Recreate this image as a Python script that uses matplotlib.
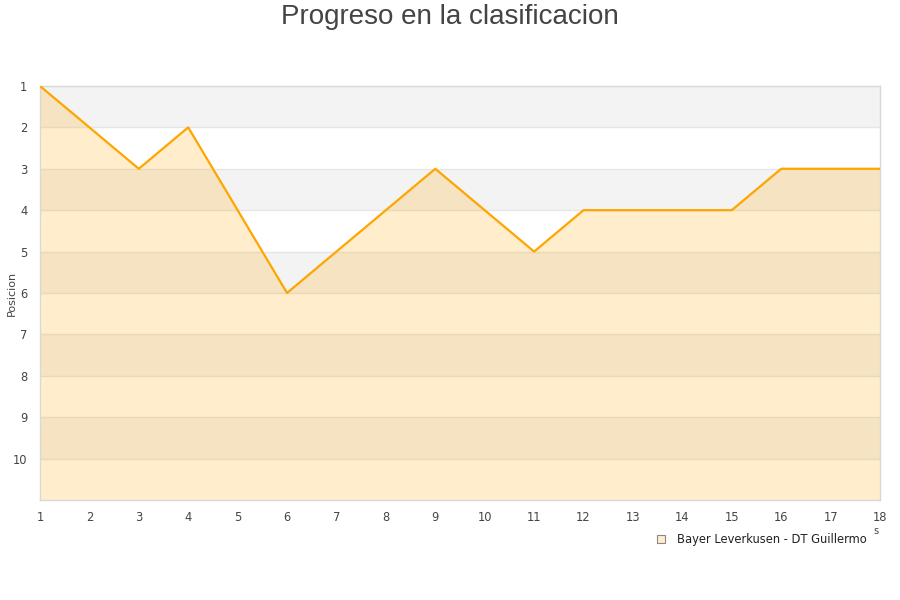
import matplotlib.pyplot as plt
import numpy as np
from matplotlib.lines import Line2D

# data
jornadas = list(range(1, 19))
posicion = [1, 2, 3, 2, 4, 6, 5, 4, 3, 4, 5, 4, 4, 4, 4, 3, 3, 3]
team = "Bayer Leverkusen - DT Guillermo"
y_ticks = list(range(1, 11))

ORANGE = "#ffa500"
GRID = "#e6e6e6"
TEXT = "#444444"

fig = plt.figure(figsize=(9, 6), dpi=100)
ax = fig.add_axes([0.0444, 0.1667, 0.9334, 0.69])

ax.set_xlim(1, 18)
ax.set_ylim(11, 1)

# alternating bands
for y0 in range(1, 11, 2):
    ax.axhspan(y0, y0 + 1, color="#f3f3f3", lw=0, zorder=0)
for y in range(2, 11):
    ax.axhline(y, color=GRID, lw=1, zorder=1)

ax.fill_between(jornadas, posicion, 11, color=ORANGE, alpha=0.2, lw=0, zorder=2)
ax.plot(jornadas, posicion, color=ORANGE, lw=1.6, zorder=3)

ax.set_xticks(jornadas)
ax.set_yticks(y_ticks)
ax.tick_params(length=0, labelsize=8.3, colors=TEXT, pad=8)
ax.tick_params(axis="y", pad=9)
for s in ax.spines.values():
    s.set_color("#d8d8d8")
    s.set_linewidth(1)

ax.set_ylabel("Posicion", fontsize=8, color=TEXT)
ax.yaxis.set_label_coords(-0.027, 0.5)

fig.text(0.5, 0.972, "Progreso en la clasificacion", ha="center", va="center",
         fontsize=20, color=TEXT, family="Liberation Sans")

# small clipped axis title remnant
fig.text(0.973, 0.115, "s", fontsize=7, color=TEXT, ha="center", va="center")

handle = Line2D([], [], marker="s", ls="none", markersize=6,
                markerfacecolor="#ffedcc", markeredgecolor="#888888", markeredgewidth=0.8)
fig.legend([handle], [team], loc="center", bbox_to_anchor=(0.842, 0.101),
           frameon=False, fontsize=8.3, handletextpad=0.4, labelcolor="#222222")

fig.savefig("out.png", dpi=100)
